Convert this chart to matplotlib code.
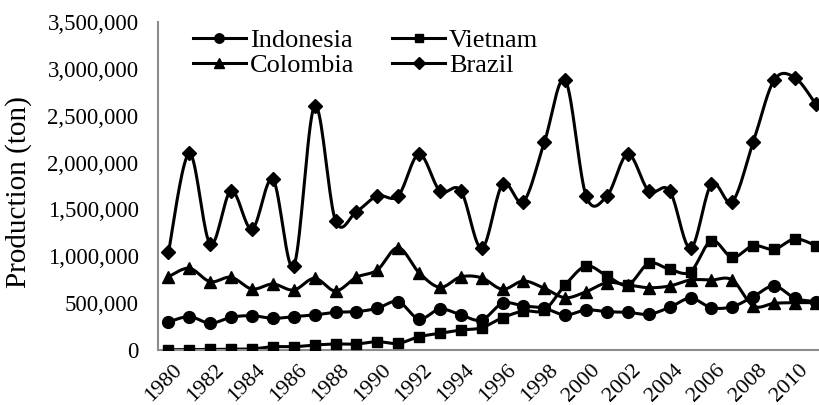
import numpy as np
import matplotlib
matplotlib.use("Agg")
import matplotlib.pyplot as plt
import matplotlib.transforms as mtransforms
from matplotlib.ticker import FuncFormatter

plt.rcParams['font.family'] = ['Liberation Serif', 'DejaVu Serif']

years = list(range(1980, 2012))

indonesia = [299000, 356000, 285000, 349000, 366000, 338000, 356000, 374000,
             402000, 409000, 445000, 516000, 331000, 438000, 374000, 320000,
             498000, 470000, 445000, 374000, 427000, 409000, 402000, 381000,
             455000, 552000, 452000, 462000, 569000, 683000, 552000, 516000]
vietnam = [3000, 5000, 6000, 8000, 11000, 35000, 35000, 53000,
           64000, 64000, 89000, 71000, 142000, 178000, 213000, 238000,
           345000, 416000, 427000, 694000, 896000, 790000, 694000, 925000,
           861000, 836000, 1167000, 989000, 1113000, 1075000, 1185000, 1113000]
colombia = [782000, 872000, 729000, 776000, 651000, 704000, 640000, 765000,
            630000, 776000, 854000, 1092000, 825000, 669000, 780000, 770000,
            648000, 736000, 658000, 558000, 622000, 718000, 694000, 665000,
            683000, 747000, 747000, 747000, 470000, 498000, 505000, 505000]
brazil = [1043000, 2098000, 1131000, 1700000, 1290000, 1820000, 896000, 2604000,
          1380000, 1476000, 1644000, 1644000, 2090000, 1697000, 1700000, 1085000,
          1768000, 1583000, 2216000, 2878000, 1644000, 1644000, 2090000, 1697000,
          1700000, 1085000, 1768000, 1583000, 2216000, 2878000, 2906000, 2622000]

series = [("Indonesia", indonesia, "o", 8.5),
          ("Vietnam", vietnam, "s", 7.5),
          ("Colombia", colombia, "^", 8.5),
          ("Brazil", brazil, "D", 7.5)]


def smooth(x, y, n=20):
    # bezier smoothing like the spreadsheet "smoothed line" option
    x = np.asarray(x, float)
    y = np.asarray(y, float)
    px = np.concatenate([[x[0]], x, [x[-1]]])
    py = np.concatenate([[y[0]], y, [y[-1]]])
    xs, ys = [], []
    t = np.linspace(0, 1, n)
    for i in range(1, len(px) - 2):
        p0 = np.array([px[i], py[i]])
        p3 = np.array([px[i + 1], py[i + 1]])
        p1 = p0 + (np.array([px[i + 1], py[i + 1]]) - np.array([px[i - 1], py[i - 1]])) / 6
        p2 = p3 - (np.array([px[i + 2], py[i + 2]]) - np.array([px[i], py[i]])) / 6
        b = ((1 - t) ** 3)[:, None] * p0 + (3 * (1 - t) ** 2 * t)[:, None] * p1 \
            + (3 * (1 - t) * t ** 2)[:, None] * p2 + (t ** 3)[:, None] * p3
        xs.extend(b[:, 0])
        ys.extend(b[:, 1])
    return xs, ys


fig = plt.figure(figsize=(8.2, 4.05), dpi=100)
ax = fig.add_axes([0.1927, 0.1358, 0.8073, 0.81])

handles = {}
for name, vals, mk, ms in series:
    sx, sy = smooth(years, vals)
    ax.plot(sx, sy, color='black', lw=2.2, zorder=2)
    ax.plot(years, vals, linestyle='none', marker=mk, color='black',
            markersize=ms, zorder=3)
    # legend handle
    handles[name], = ax.plot([], [], color='black', lw=2.2, marker=mk,
                             markersize=ms * 0.8, label=name)

ax.set_xlim(1979.5, 2011.2)
ax.set_ylim(0, 3500000)
ax.set_yticks(np.arange(0, 3500001, 500000))
ax.yaxis.set_major_formatter(FuncFormatter(lambda v, p: f"{int(v):,}"))
ax.set_xticks(years[::2])
ax.set_xticklabels([str(y) for y in years[::2]], rotation=45, ha='right',
                   rotation_mode='anchor')
ax.tick_params(length=0, labelsize=16.5)
ax.tick_params(axis='y', pad=14)
ax.tick_params(axis='x', pad=8, labelsize=16)
shift = mtransforms.ScaledTranslation(4 / 100, 0, fig.dpi_scale_trans)
for lab in ax.get_xticklabels():
    lab.set_transform(lab.get_transform() + shift)
ax.set_ylabel("Production (ton)", fontsize=21)
ax.yaxis.set_label_coords(-0.19, 0.48)

for s in ['top', 'right']:
    ax.spines[s].set_visible(False)
for s in ['left', 'bottom']:
    ax.spines[s].set_color('#8c8c8c')
    ax.spines[s].set_linewidth(1.5)

order = ["Indonesia", "Colombia", "Vietnam", "Brazil"]
ax.legend([handles[k] for k in order], order, loc='upper left',
          bbox_to_anchor=(0.025, 1.035), ncol=2, frameon=False,
          fontsize=19, handlelength=2.0, handletextpad=0.15, columnspacing=1.45,
          labelspacing=0.05, borderpad=0.2)

fig.savefig("out.png", dpi=100)
